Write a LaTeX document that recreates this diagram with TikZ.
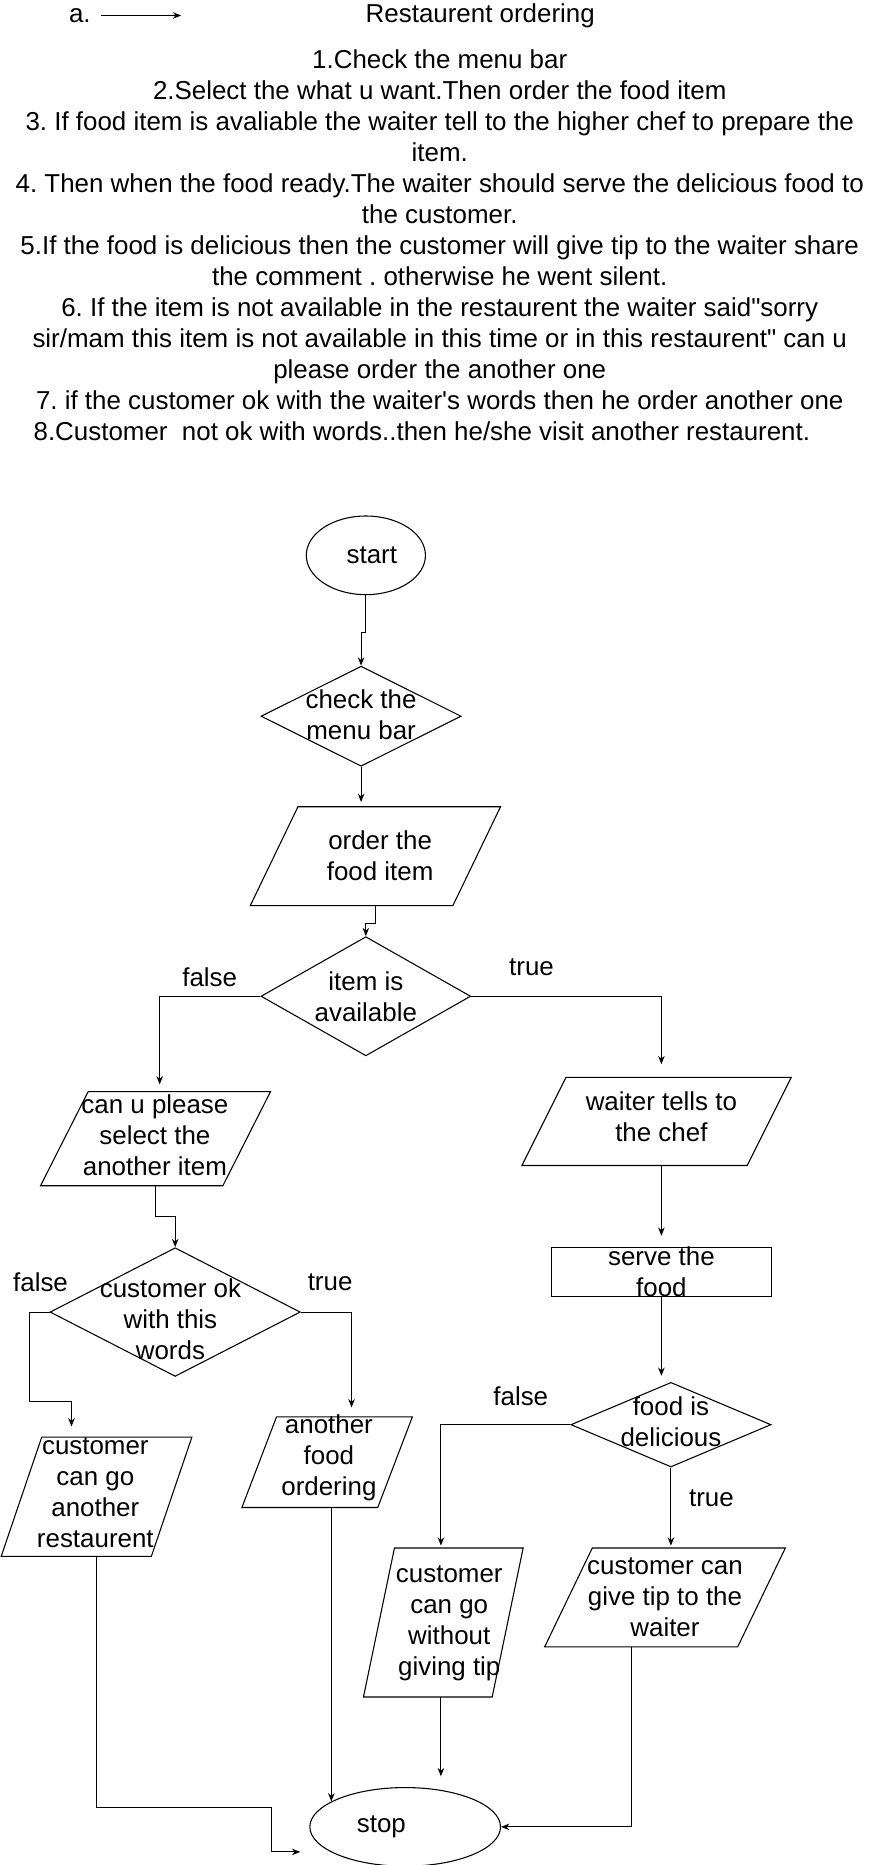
\documentclass[tikz,border=0pt]{standalone}
\usepackage{fontspec}
\setmainfont{Liberation Sans}[Ligatures=TeXOff]
\usetikzlibrary{arrows.meta,shapes.geometric}
\frenchspacing

\begin{document}
\begin{tikzpicture}[x=1pt,y=-1pt,line width=0.9pt,
    font=\fontsize{21.75pt}{26pt}\selectfont,
    flow/.style={-{Stealth[length=7pt,width=5.5pt]}},
    box/.style={inner sep=0pt,outer sep=0pt},
    txt/.style={align=center,inner sep=0pt},
    term/.style={draw,ellipse,inner sep=0pt},
    decision/.style={draw,diamond,inner sep=0pt}]
    \useasboundingbox (0,0) rectangle (731,1565);

    \node[txt] (alabel) at (67,13) {a.};
    \coordinate (astart) at (85,13);
    \coordinate (aend) at (152,13);
    \draw[flow] (astart) -- (aend);
    \node[txt] (title) at (403,13) {Restaurent ordering};
    \node[txt] (steps) at (369,206) {1.Check the menu bar\\
        2.Select the what u want.Then order the food item\\
        3. If food item is avaliable the waiter tell to the higher chef to prepare the\\
        item.\\
        4. Then when the food ready.The waiter should serve the delicious food to\\
        the customer.\\
        5.If the food is delicious then the customer will give tip to the waiter share\\
        the comment . otherwise he went silent.\\
        6. If the item is not available in the restaurent the waiter said"sorry\\
        sir/mam this item is not available in this time or in this restaurent" can u\\
        please order the another one\\
        7. if the customer ok with the waiter's words then he order another one\\
        8.Customer\ \ not ok with words..then he/she visit another restaurent.\hspace*{30pt}};

    \node[term,minimum width=100pt,minimum height=66pt] (start) at (307,466) {};
    \node[txt] (starttxt) at (312,466) {start};
    \node[decision,minimum width=168pt,minimum height=84pt] (check) at (303,601) {};
    \node[txt] (checktxt) at (303,600) {check the\\menu bar};
    \node[box,minimum width=210pt,minimum height=83pt] (order) at (315,718.5) {};
    \draw ([xshift=40pt]order.north west) -- (order.north east) -- ([xshift=-40pt]order.south east) -- (order.south west) -- cycle;
    \node[txt] (ordertxt) at (319,718) {order the\\food item};
    \node[decision,minimum width=176pt,minimum height=100pt] (item) at (307,836) {};
    \node[txt] (itemtxt) at (307,836) {item is\\available};

    \node[box,minimum width=193pt,minimum height=79pt] (canu) at (130.5,955.5) {};
    \draw ([xshift=40pt]canu.north west) -- (canu.north east) -- ([xshift=-40pt]canu.south east) -- (canu.south west) -- cycle;
    \node[txt] (canutxt) at (130,953) {can u please\\select the\\another item};
    \node[decision,minimum width=210pt,minimum height=108pt] (custok) at (147,1101) {};
    \node[txt] (custoktxt) at (143,1107) {customer ok\\with this\\words};
    \node[box,minimum width=160pt,minimum height=100pt] (cgo) at (81,1256) {};
    \draw ([xshift=34pt]cgo.north west) -- (cgo.north east) -- ([xshift=-34pt]cgo.south east) -- (cgo.south west) -- cycle;
    \node[txt] (cgotxt) at (80,1253) {customer\\can go\\another\\restaurent};
    \node[box,minimum width=143pt,minimum height=76pt] (another) at (274.5,1227) {};
    \draw ([xshift=29pt]another.north west) -- (another.north east) -- ([xshift=-29pt]another.south east) -- (another.south west) -- cycle;
    \node[txt] (anothertxt) at (276,1223) {another\\food\\ordering};

    \node[box,minimum width=226pt,minimum height=74pt] (waiter) at (551,941) {};
    \draw ([xshift=37pt]waiter.north west) -- (waiter.north east) -- ([xshift=-37pt]waiter.south east) -- (waiter.south west) -- cycle;
    \node[txt] (waitertxt) at (555,937) {waiter tells to\\the chef};
    \node[draw,box,minimum width=184pt,minimum height=41pt] (serve) at (555,1067.5) {};
    \node[txt] (servetxt) at (555,1067) {serve the\\food};
    \node[decision,minimum width=168pt,minimum height=71pt] (food) at (563,1195.5) {};
    \node[txt] (foodtxt) at (563,1193) {food is\\delicious};
    \node[box,minimum width=134pt,minimum height=125pt] (notip) at (372,1361.5) {};
    \draw ([xshift=26pt]notip.north west) -- (notip.north east) -- ([xshift=-26pt]notip.south east) -- (notip.south west) -- cycle;
    \node[txt] (notiptxt) at (377,1362) {customer\\can go\\without\\giving tip};
    \node[box,minimum width=202pt,minimum height=83pt] (tip) at (558,1340.5) {};
    \draw ([xshift=40pt]tip.north west) -- (tip.north east) -- ([xshift=-40pt]tip.south east) -- (tip.south west) -- cycle;
    \node[txt] (tiptxt) at (558,1340) {customer can\\give tip to the\\waiter};

    \node[term,minimum width=160pt,minimum height=66pt] (stop) at (340,1533) {};
    \node[txt] (stoptxt) at (320,1533) {stop};
    \coordinate (stopin) at (252,1554);

    \node[txt] (f1) at (176,820) {false};
    \node[txt] (t1) at (446,812) {true};
    \node[txt] (f2) at (34,1076) {false};
    \node[txt] (t2) at (277,1076) {true};
    \node[txt] (f3) at (437,1172) {false};
    \node[txt] (t3) at (597,1257) {true};

    \draw[flow] (start.south) -- ++(0,31) -| (check.north);
    \draw[flow,shorten >=4pt] (check.south) -- (check.south |- order.north);
    \draw[flow] (order.south) -- ++(0,15) -| (item.north);
    \draw[flow,shorten >=6pt] (item.west) -| ([xshift=3.5pt]canu.north);
    \draw[flow,shorten >=11pt] (item.east) -| ([xshift=4pt]waiter.north);
    \draw[flow] (canu.south) -- ++(0,26) -| (custok.north);
    \draw[flow,shorten >=9pt] (custok.west) -- ++(-17,0) -- ++(0,75) -| ([xshift=-21pt]cgo.north);
    \draw[flow,shorten >=8pt] (custok.east) -| ([xshift=20.5pt]another.north);
    \draw[flow] (cgo.south) -- ++(0,211) -- ++(147,0) |- (stopin);
    \draw[flow] (stop.161 |- another.south) -- (stop.161);
    \draw[flow,shorten >=10pt] (serve.north |- waiter.south) -- (serve.north);
    \draw[flow,shorten >=5pt] (serve.south) -- (serve.south |- food.north);
    \draw[flow,shorten >=2pt] (food.west) -| ([xshift=-2pt]notip.north);
    \draw[flow,shorten >=2pt] (food.south) -- (food.south |- tip.north);
    \draw[flow,shorten >=9pt] ([xshift=-2pt]notip.south) -- ([xshift=-2pt]notip.south |- stop.north);
    \draw[flow] ([xshift=-28pt]tip.south) |- (stop.east);
\end{tikzpicture}
\end{document}
